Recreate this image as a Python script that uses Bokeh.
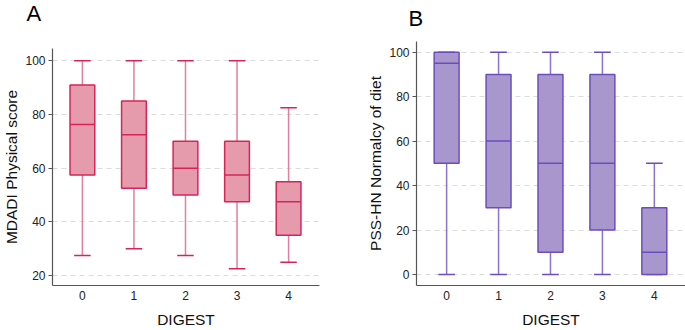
from bokeh.plotting import figure
from bokeh.layouts import row, column
from bokeh.models import ColumnDataSource, Range1d, FixedTicker
from bokeh.core.properties import value
from bokeh.embed import file_html
from bokeh.resources import INLINE

# DIGEST grade on the x axis
digest = [0, 1, 2, 3, 4]
digest_labels = ["0", "1", "2", "3", "4"]

# MDADI Physical score: whisker ends, quartiles and medians per DIGEST grade
mdadi_low = [27.5, 30, 27.5, 22.5, 25]
mdadi_q1 = [57.5, 52.5, 50, 47.5, 35]
mdadi_med = [76.25, 72.5, 60, 57.5, 47.5]
mdadi_q3 = [91, 85, 70, 70, 55]
mdadi_high = [100, 100, 100, 100, 82.5]

# PSS-HN Normalcy of diet: whisker ends, quartiles and medians per DIGEST grade
pss_low = [0, 0, 0, 0, 0]
pss_q1 = [50, 30, 10, 20, 0]
pss_med = [95, 60, 50, 50, 10]
pss_q3 = [100, 90, 90, 90, 30]
pss_high = [100, 100, 100, 100, 50]

FONT = "Liberation Sans"
BOX_W = 0.48
CAP_W = 0.32
HEADER_H = 40


def header(letter, width, pos):
    """Strip above a panel carrying its letter; coordinates are strip pixels from the top."""
    h = figure(title=None, width=width, height=HEADER_H, output_backend="svg",
               toolbar_location=None,
               x_range=Range1d(0, width), y_range=Range1d(HEADER_H, 0),
               x_axis_type=None, y_axis_type=None,
               min_border_left=0, min_border_right=0, min_border_top=0, min_border_bottom=0)
    h.outline_line_color = None
    h.grid.grid_line_color = None
    h.text(x=[pos[0]], y=[pos[1]], text=[letter], text_font=value(FONT),
           text_font_size="22px", text_color="#000000",
           text_baseline="alphabetic", text_align="left")
    return h


def box_panel(ylabel, low, q1, med, q3, high, yrange, yticks,
              fill, edge, stem, width, border):
    src = ColumnDataSource(dict(
        x=digest, low=low, q1=q1, med=med, q3=q3, high=high,
        xl=[d - BOX_W / 2 for d in digest], xr=[d + BOX_W / 2 for d in digest],
        cl=[d - CAP_W / 2 for d in digest], cr=[d + CAP_W / 2 for d in digest],
    ))
    p = figure(title=None, width=width, height=330 - HEADER_H, output_backend="svg",
               toolbar_location=None,
               x_range=Range1d(-0.58, 4.6), y_range=Range1d(*yrange),
               min_border_left=border[0], min_border_right=border[1],
               min_border_top=border[2], min_border_bottom=border[3])
    p.outline_line_color = None
    p.background_fill_color = "white"
    p.border_fill_color = "white"

    # whisker stems
    p.segment(x0="x", y0="q3", x1="x", y1="high", source=src, line_color=stem, line_width=1.5)
    p.segment(x0="x", y0="low", x1="x", y1="q1", source=src, line_color=stem, line_width=1.5)
    # whisker caps
    p.segment(x0="cl", y0="high", x1="cr", y1="high", source=src, line_color=edge, line_width=1.5)
    p.segment(x0="cl", y0="low", x1="cr", y1="low", source=src, line_color=edge, line_width=1.5)
    # boxes and medians
    p.vbar(x="x", width=BOX_W, bottom="q1", top="q3", source=src,
           fill_color=fill, line_color=edge, line_width=1.5)
    p.segment(x0="xl", y0="med", x1="xr", y1="med", source=src, line_color=edge, line_width=1.5)

    p.xgrid.grid_line_color = None
    p.ygrid.grid_line_color = "#dcdcdc"
    p.ygrid.grid_line_dash = "5 4"
    p.ygrid.grid_line_width = 1

    p.xaxis.ticker = FixedTicker(ticks=digest)
    p.xaxis.major_label_overrides = {d: s for d, s in zip(digest, digest_labels)}
    p.xaxis.major_tick_out = 0
    p.xaxis.major_tick_in = 0
    p.xaxis.minor_tick_line_color = None
    p.xaxis.axis_label = "DIGEST"
    p.xaxis.axis_label_standoff = 8
    p.xaxis.major_label_standoff = 5

    p.yaxis.ticker = FixedTicker(ticks=yticks)
    p.yaxis.major_tick_out = 4
    p.yaxis.major_tick_in = 0
    p.yaxis.minor_tick_line_color = None
    p.yaxis.axis_label = ylabel
    p.yaxis.axis_label_standoff = 2
    p.yaxis.major_label_standoff = 3

    for ax in (p.xaxis, p.yaxis):
        ax.axis_line_color = "#555555"
        ax.axis_line_width = 1.2
        ax.major_tick_line_color = "#555555"
        ax.major_label_text_font = FONT
        ax.major_label_text_font_size = "12px"
        ax.major_label_text_color = "#222222"
        ax.axis_label_text_font = FONT
        ax.axis_label_text_font_size = "15.5px"
        ax.axis_label_text_font_style = "normal"
        ax.axis_label_text_color = "#111111"
    return p


pa = box_panel("MDADI Physical score", mdadi_low, mdadi_q1, mdadi_med, mdadi_q3, mdadi_high,
               (16.3, 104.6), [20, 40, 60, 80, 100],
               "#E69BAD", "#D6245A", "#E0809A", 340, (51, 21, 8, 45))
pb = box_panel("PSS-HN Normalcy of diet", pss_low, pss_q1, pss_med, pss_q3, pss_high,
               (-4.95, 104.8), [0, 20, 40, 60, 80, 100],
               "#A797CC", "#6C4DBE", "#8C74CE", 345, (76, 0, 1, 45))

ha = header("A", 340, (26, 12.5))
hb = header("B", 345, (68, 18))

layout = row(column(row(ha), row(pa)), column(row(hb), row(pb)))
open("out.html", "w").write(file_html(layout, INLINE))
